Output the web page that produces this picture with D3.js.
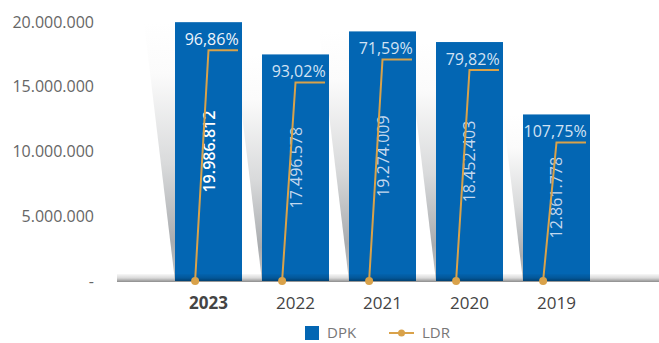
<!DOCTYPE html>
<html>
<head>
<meta charset="utf-8">
<script src="https://cdn.jsdelivr.net/npm/d3@7"></script>
<style>
  html, body { margin: 0; padding: 0; background: #fff; }
  svg { display: block; font-family: "Open Sans", sans-serif; }
</style>
</head>
<body>
<div class="chart"></div>
<script>
// data
const years = ['2023', '2022', '2021', '2020', '2019'];
const dpk = [19986812, 17496578, 19274009, 18452403, 12861778];
const ldr = [96.86, 93.02, 71.59, 79.82, 107.75];
const yTicks = [0, 5000000, 10000000, 15000000, 20000000];

const width = 659, height = 343;
const blue = '#0366b3', gold = '#d9a24a';

const idLocale = d3.formatLocale({decimal: ',', thousands: '.', grouping: [3], currency: ['', '']});
const fmtNum = idLocale.format(',d');
const fmtPct = idLocale.format(',.2f');

const svg = d3.select('.chart').append('svg')
    .attr('width', width)
    .attr('height', height);

const defs = svg.append('defs');

// shadow wedge gradient
const sg = defs.append('linearGradient')
    .attr('id', 'shadowGrad')
    .attr('x1', 0).attr('y1', 0).attr('x2', 0).attr('y2', 1);
sg.append('stop').attr('offset', '0').attr('stop-color', '#ffffff');
sg.append('stop').attr('offset', '0.2').attr('stop-color', '#fbfbfb');
sg.append('stop').attr('offset', '0.55').attr('stop-color', '#d9dadb');
sg.append('stop').attr('offset', '0.85').attr('stop-color', '#a9acaf');
sg.append('stop').attr('offset', '1').attr('stop-color', '#c4c5c6');

// floor gradient
const fg = defs.append('linearGradient')
    .attr('id', 'floorGrad')
    .attr('x1', 0).attr('y1', 0).attr('x2', 0).attr('y2', 1);
fg.append('stop').attr('offset', '0').attr('stop-color', '#000').attr('stop-opacity', 0.03);
fg.append('stop').attr('offset', '0.5').attr('stop-color', '#000').attr('stop-opacity', 0.15);
fg.append('stop').attr('offset', '1').attr('stop-color', '#000').attr('stop-opacity', 0.45);

const x = d3.scaleBand()
    .domain(years)
    .range([155, 610])
    .padding(0.23);

const y = d3.scaleLinear()
    .domain([0, 20000000])
    .range([281, 22]);

const data = years.map((yr, i) => ({year: yr, dpk: dpk[i], ldr: ldr[i]}));
const bw = x.bandwidth();

// y axis labels
svg.append('g')
    .selectAll('text')
    .data(yTicks)
    .enter().append('text')
    .attr('x', 94)
    .attr('y', d => y(d))
    .attr('dy', '0.35em')
    .attr('text-anchor', 'end')
    .style('font-size', '16px')
    .style('fill', '#666')
    .text(d => d === 0 ? '-' : fmtNum(d));

// perspective shadows behind the bars
svg.append('g')
    .selectAll('path')
    .data(data)
    .enter().append('path')
    .attr('d', d => {
        const left = x(d.year), top = y(d.dpk), bottom = y(0);
        const w = 0.12 * (bottom - top);
        return 'M' + left + ',' + top + 'L' + (left - w) + ',' + top + 'L' + left + ',' + bottom + 'Z';
    })
    .style('fill', 'url(#shadowGrad)');

// bars
svg.selectAll('.bar')
    .data(data)
    .enter().append('rect')
    .attr('class', 'bar')
    .attr('x', d => x(d.year))
    .attr('y', d => y(d.dpk))
    .attr('width', bw)
    .attr('height', d => y(0) - y(d.dpk))
    .style('fill', blue);

// floor band
svg.append('rect')
    .attr('x', 117)
    .attr('y', y(0) - 7)
    .attr('width', width - 117)
    .attr('height', 8)
    .style('fill', 'url(#floorGrad)');

// value labels inside bars
svg.append('g')
    .selectAll('text')
    .data(data)
    .enter().append('text')
    .attr('transform', d => 'translate(' + (x(d.year) + bw / 2 + 6) + ',' + ((y(d.dpk) + y(0)) / 2) + ') rotate(-90)')
    .attr('text-anchor', 'middle')
    .style('font-size', '16px')
    .style('font-weight', d => d.year === '2023' ? 600 : 400)
    .style('fill', d => d.year === '2023' ? '#ffffff' : '#c4d8ee')
    .text(d => fmtNum(d.dpk));

// LDR markers (drawn as in the source, from the floor up to a step just under each bar top)
const level = d => y(d.dpk) + 28;
const lineGen = d3.line();
svg.append('g')
    .selectAll('path')
    .data(data)
    .enter().append('path')
    .attr('d', d => lineGen([
        [x(d.year) + bw * 0.3, y(0)],
        [x(d.year) + bw * 0.5, level(d)],
        [x(d.year) + bw * 0.94, level(d)]
    ]))
    .style('fill', 'none')
    .style('stroke', gold)
    .style('stroke-width', 2);

svg.append('g')
    .selectAll('circle')
    .data(data)
    .enter().append('circle')
    .attr('cx', d => x(d.year) + bw * 0.3)
    .attr('cy', y(0))
    .attr('r', 4)
    .style('fill', gold);

svg.append('g')
    .selectAll('text')
    .data(data)
    .enter().append('text')
    .attr('x', d => x(d.year) + bw * 0.95)
    .attr('y', d => level(d) - 5)
    .attr('text-anchor', 'end')
    .style('font-size', '16px')
    .style('fill', d => d.year === '2023' ? '#eef4fb' : '#d2e2f3')
    .text(d => fmtPct(d.ldr) + '%');

// category labels
svg.append('g')
    .selectAll('text')
    .data(years)
    .enter().append('text')
    .attr('x', d => x(d) + bw / 2)
    .attr('y', 309)
    .attr('text-anchor', 'middle')
    .style('font-size', '17px')
    .style('font-weight', d => d === '2023' ? 700 : 400)
    .style('fill', '#444')
    .text(d => d);

// legend
const legend = svg.append('g');
legend.append('rect')
    .attr('x', 305).attr('y', 326)
    .attr('width', 14).attr('height', 14)
    .style('fill', blue);
legend.append('text')
    .attr('x', 327).attr('y', 333)
    .attr('dy', '0.35em')
    .style('font-size', '15px')
    .style('fill', '#777')
    .text('DPK');
legend.append('line')
    .attr('x1', 389).attr('x2', 414)
    .attr('y1', 333).attr('y2', 333)
    .style('stroke', gold)
    .style('stroke-width', 2);
legend.append('circle')
    .attr('cx', 401.5).attr('cy', 333).attr('r', 3.5)
    .style('fill', gold);
legend.append('text')
    .attr('x', 422).attr('y', 333)
    .attr('dy', '0.35em')
    .style('font-size', '15px')
    .style('fill', '#777')
    .text('LDR');
</script>
</body>
</html>
